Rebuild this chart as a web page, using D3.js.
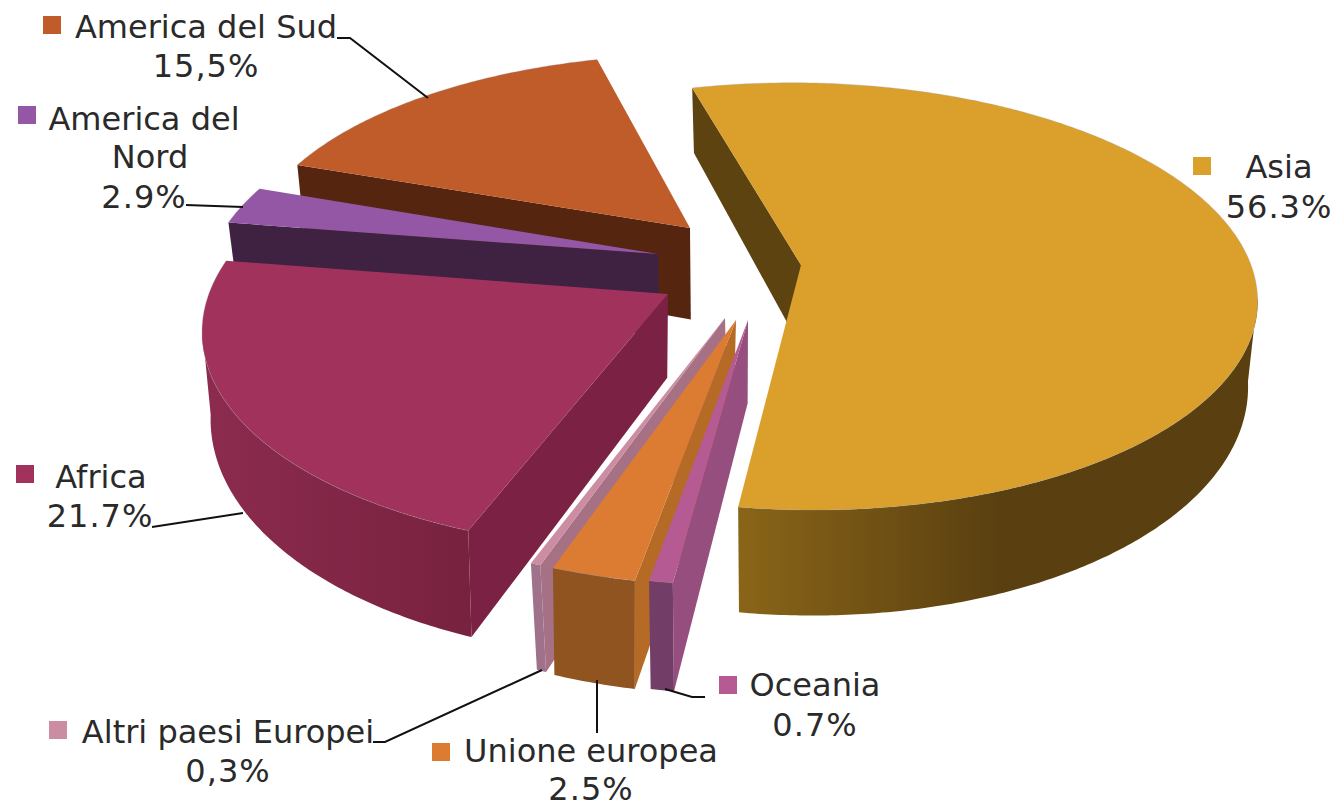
<!DOCTYPE html>
<html><head><meta charset="utf-8">
<script src="https://cdn.jsdelivr.net/npm/d3@7"></script>
<style>html,body{margin:0;background:#fff}svg{display:block}text{font-family:"DejaVu Sans",sans-serif;font-size:32px;fill:#2a2a2a;text-anchor:middle}</style>
</head><body><svg id="c" width="1336" height="807"></svg>
<script>
// Data, clockwise from the Asia slice
const categories = ["Asia","Oceania","Unione europea","Altri paesi Europei","Africa","America del Nord","America del Sud"];
const values = [56.3,0.7,2.5,0.3,21.7,2.9,15.5];
// Styles
const topColors  = ["#DBA02C","#B65A93","#DC7C33","#CC8CA2","#A0325C","#9457A5","#C05C2A"];
const cutColors  = ["#5C4310","#954E7E","#B56A25","#A67085","#7B2244","#3F2142","#552510"];
const wallStart  = ["#8A6518","#723E68","#8F5420","#A0718A","#8C2B4E","#3F2142","#552510"];
const wallEnd    = ["#5A4010","#723E68","#8F5420","#A0718A","#78223F","#3F2142","#552510"];
// Layout: exploded apex of each slice on the page, and per-slice tuning of the lower rim
const apexes = [[801,265],[748,320],[736,320],[725,318],[668,294],[658,254],[690,228]];
const bottomShift = [1,0,-2,2,-2,0,0];
const depthExtra  = [0,-4,-4,-4,-1,0,13];
const drawOrder = [6,5,4,0,3,2,1];
const labels = [
 {l:["Asia","56.3%"],x:[1279,1279],y:[178,218],sq:[1193,157],i:0},
 {l:["Oceania","0.7%"],x:[815,815],y:[696,736],sq:[719,676],i:1},
 {l:["Unione europea","2.5%"],x:[591,591],y:[762,799.5],sq:[432,743],i:2},
 {l:["Altri paesi Europei","0,3%"],x:[228,228],y:[743,782],sq:[49,721],i:3},
 {l:["Africa","21.7%"],x:[101,100],y:[488,527],sq:[16,465],i:4},
 {l:["America del","Nord","2.9%"],x:[144,150,144],y:[130,168,208],sq:[18,106],i:5},
 {l:["America del Sud","15,5%"],x:[206,206],y:[38,77],sq:[43,16],i:6}
];
const leaders = [
 [[337,38],[350,38],[428,98]],
 [[186,205],[243,207]],
 [[152,527],[243,513]],
 [[665,689],[692,697],[705,697]],
 [[373,742],[385,742],[542,670]],
 [[597,680],[597,733]]
];
// Perspective model of the disc
const X0=730,Y0=265,A=450,B=209,K=0.147,DEPTH=82,BX=0.98,BY=1.096;
const persp=V=>1/(1-K*V);
const topP=(U,V)=>[X0+A*U*persp(V),Y0+B*V*persp(V)];
const botP=(U,V,i)=>[X0+BX*A*U*persp(V)+bottomShift[i],Y0+DEPTH+depthExtra[i]+BY*B*V*persp(V)];
const invert=([x,y])=>{const t=(y-Y0)/B,V=t/(1+K*t);return [(x-X0)/(A*persp(V)),V];};

const startRad=-14.7*Math.PI/180;
const arcs=d3.pie().sort(null).startAngle(startRad).endAngle(startRad+2*Math.PI)(values);
const svg=d3.select("#c");
const defs=svg.append("defs");
const line=d3.line();
const close=pts=>line(pts)+"Z";

drawOrder.forEach(i=>{
  const a=arcs[i],[Ou,Ov]=invert(apexes[i]);
  const n=Math.max(2,Math.ceil((a.endAngle-a.startAngle)/0.01));
  const th=d3.range(n+1).map(j=>a.startAngle+(a.endAngle-a.startAngle)*j/n);
  const disc=t=>[Ou+Math.sin(t),Ov-Math.cos(t)];
  const g=svg.append("g").attr("class","slice");
  // visible cut face
  const s=disc(a.startAngle);
  g.append("path").attr("d",close([topP(Ou,Ov),topP(...s),botP(...s,i),botP(Ou,Ov,i)])).attr("fill",cutColors[i]);
  // outer wall: only the part that faces the viewer
  const vis=th.filter(t=>-Math.cos(t)>=K);
  if(vis.length>1){
    const tp=vis.map(t=>topP(...disc(t))),bp=vis.map(t=>botP(...disc(t),i));
    const xs=tp.map(p=>p[0]);
    const id="w"+i;
    const gr=defs.append("linearGradient").attr("id",id).attr("gradientUnits","userSpaceOnUse")
      .attr("x1",d3.min(xs)).attr("x2",d3.max(xs)).attr("y1",0).attr("y2",0);
    gr.append("stop").attr("offset",0).attr("stop-color",wallStart[i]);
    gr.append("stop").attr("offset",i===0?0.5:1).attr("stop-color",wallEnd[i]);
    g.append("path").attr("d",close(tp.concat(bp.reverse()))).attr("fill",`url(#${id})`);
  }
  // top face
  const pts=[topP(Ou,Ov)].concat(th.map(t=>topP(...disc(t))));
  g.append("path").attr("d",close(pts)).attr("fill",topColors[i]);
  g.append("path").attr("d",line(th.map(t=>topP(...disc(t))))).attr("fill","none").attr("stroke","#999").attr("stroke-opacity",.3).attr("stroke-width",1);
});

leaders.forEach(p=>svg.append("path").attr("d",line(p)).attr("fill","none").attr("stroke","#111").attr("stroke-width",2));
labels.forEach(d=>{
  svg.append("rect").attr("x",d.sq[0]).attr("y",d.sq[1]).attr("width",18).attr("height",18).attr("fill",topColors[d.i]);
  d.l.forEach((t,j)=>svg.append("text").attr("x",d.x[j]).attr("y",d.y[j])
    .attr("letter-spacing",t.endsWith("%")?"1px":null).text(t));
});
</script></body></html>
